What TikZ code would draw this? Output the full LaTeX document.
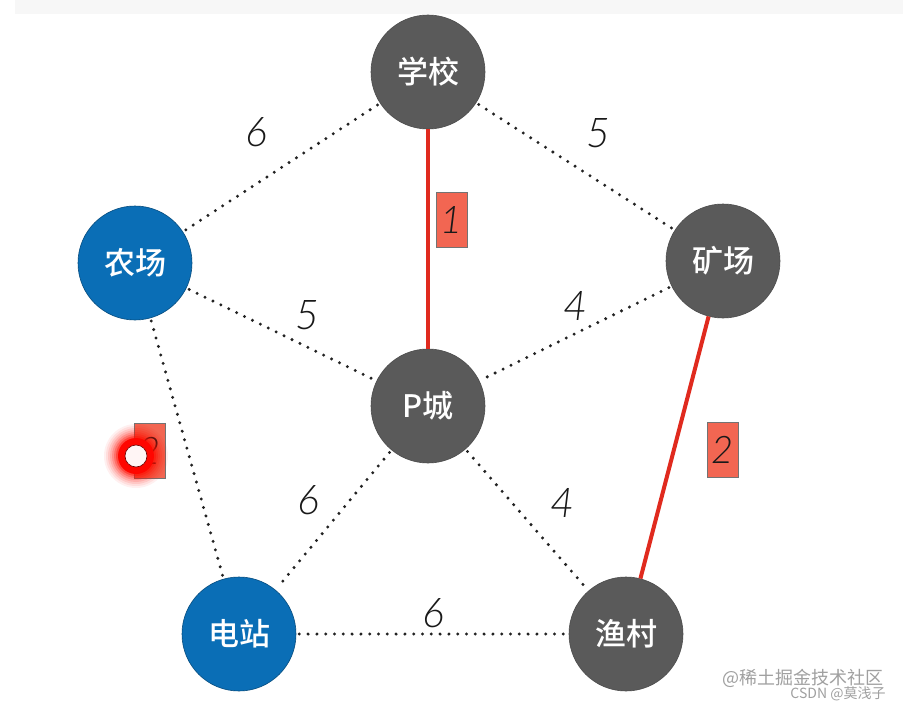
\documentclass[tikz,border=0pt]{standalone}
\usepackage{fontspec}
\newfontfamily\cjk{Noto Sans CJK SC}
\IfFontExistsTF{Noto Sans CJK SC Medium}{\newfontfamily\cjkm{Noto Sans CJK SC Medium}}{\newfontfamily\cjkm{Noto Sans CJK SC Bold}}
\IfFontExistsTF{Lato Light Italic}{\newfontfamily\numfont{Lato Light Italic}}{\newfontfamily\numfont{Liberation Sans Italic}}
\definecolor{nodegray}{HTML}{5A5A5A}
\definecolor{nodeblue}{HTML}{0A6EB6}
\definecolor{redline}{HTML}{E02A1E}
\definecolor{redbox}{HTML}{F26652}
\definecolor{dotcol}{HTML}{222222}
\definecolor{wmark}{HTML}{A0A0A0}
\tikzset{
  city/.style={circle, minimum size=114pt, inner sep=0pt, draw=black!70, line width=0.6pt,
    text=white, font=\cjkm\fontsize{31}{31}\selectfont},
  grayc/.style={city, fill=nodegray},
  bluec/.style={city, fill=nodeblue, draw=nodeblue!70!black},
  dotedge/.style={draw=dotcol, line width=3.3pt, line cap=round, dash pattern=on 0pt off 8.8pt, shorten >=3pt, shorten <=3pt},
  rededge/.style={draw=redline, line width=4pt},
  wlabel/.style={font=\numfont\fontsize{41}{41}\selectfont, text=black!90, inner sep=0pt},
  boxlabel/.style={fill=redbox, draw=black!55, line width=0.5pt, minimum width=31pt, minimum height=55pt, inner sep=0pt,
    font=\numfont\fontsize{38}{38}\selectfont, text=black!90}
}
\begin{document}
\begin{tikzpicture}[x=1pt,y=-1pt]
\useasboundingbox (0,0) rectangle (903,709);
\fill[white] (0,0) rectangle (903,709);
\fill[black!3] (15,0) rectangle (903,14);

\node[grayc] (xx) at (428,72) {学校};
\node[bluec] (nc) at (135,263) {农场};
\node[grayc] (kc) at (723,261) {矿场};
\node[grayc] (pc) at (428,406) {P城};
\node[bluec] (dz) at (239,634) {电站};
\node[grayc] (yc) at (626,634) {渔村};

\draw[dotedge] (xx) -- (nc);
\draw[dotedge] (xx) -- (kc);
\draw[dotedge] (nc) -- (pc);
\draw[dotedge] (kc) -- (pc);
\draw[dotedge] (nc) -- (dz);
\draw[dotedge] (pc) -- (dz);
\draw[dotedge] (pc) -- (yc);
\draw[dotedge] (dz) -- (yc);
\draw[rededge] (xx) -- (pc);
\draw[rededge] (kc) -- (yc);

\node[wlabel] (l1) at (256,132) {6};
\node[wlabel] (l2) at (598,133) {5};
\node[wlabel] (l3) at (307,315) {5};
\node[wlabel] (l4) at (575,306) {4};
\node[wlabel] (l5) at (308,500) {6};
\node[wlabel] (l6) at (562,503) {4};
\node[wlabel] (l7) at (433,613) {6};
\node[boxlabel] (b1) at (452,220) {1};
\node[boxlabel] (b2) at (723,450) {2};
\node[boxlabel] (b3) at (150,451) {2};

% cursor highlight
\foreach \r/\o in {32/0.06,30/0.08,28/0.1,26/0.13,24/0.18,22/0.25,20/0.4}
  \fill[red!90!orange, opacity=\o] (136,456) circle (\r pt);
\fill[red!95!orange] (136,456) circle (18pt);
\filldraw[fill=red!4, draw=red!40!black, line width=0.6pt] (136,456) circle (11pt);

\node[font=\cjk\fontsize{18}{18}\selectfont, text=wmark, inner sep=0pt] (w1) at (803,678) {@稀土掘金技术社区};
\node[font=\cjk\fontsize{14}{14}\selectfont, text=wmark, inner sep=0pt] (w2) at (838,694) {CSDN @莫浅子};
\end{tikzpicture}
\end{document}
